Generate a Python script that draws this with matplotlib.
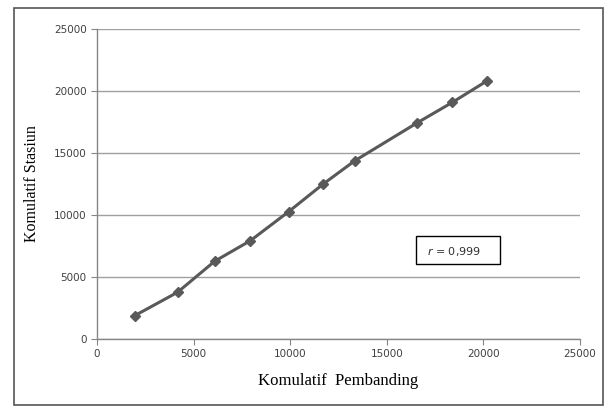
import matplotlib.pyplot as plt
from matplotlib.patches import Rectangle

# data
pembanding = [1950, 4170, 6090, 7940, 9920, 11710, 13330, 16580, 18400, 20180]
stasiun = [1880, 3770, 6270, 7930, 10270, 12500, 14360, 17440, 19090, 20810]
ticks = [0, 5000, 10000, 15000, 20000, 25000]

fig = plt.figure(figsize=(6.12, 4.09), dpi=100)
ax = fig.add_axes([97/612, 1-339/409, 483/612, 310/409])

ax.plot(pembanding, stasiun, color='#595959', lw=2.2, marker='D', ms=5,
        mfc='#595959', mec='#595959', zorder=3)

ax.set_xlim(0, 25000)
ax.set_ylim(0, 25000)
ax.set_xticks(ticks)
ax.set_yticks(ticks)
ax.tick_params(labelsize=7.5, colors='#404040', length=4, direction='out', width=0.8)
ax.tick_params(color='#868686')
ax.grid(axis='y', color='#a0a0a0', lw=1)
ax.set_axisbelow(True)
for s in ['top', 'right']:
    ax.spines[s].set_visible(False)
for s in ['left', 'bottom']:
    ax.spines[s].set_color('#868686')
    ax.spines[s].set_linewidth(1)

ax.set_xlabel('Komulatif  Pembanding', family='Liberation Serif', fontsize=12, labelpad=10)
ax.set_ylabel('Komulatif Stasiun', family='Liberation Serif', fontsize=11.5, labelpad=10)

# r box
fig.patches.append(Rectangle((416/612, 1-264/409), 84/612, 28/409, transform=fig.transFigure,
                             fill=False, ec='black', lw=1))
fig.text(427/612, 1-252/409, r'$r$ = 0,999', fontsize=8, va='center', color='#303030')

# outer frame
fig.patches.append(Rectangle((14/612, 1-405/409), 589/612, 397/409, transform=fig.transFigure,
                             fill=False, ec='#555555', lw=1.2))

fig.savefig('out.png', dpi=100)
